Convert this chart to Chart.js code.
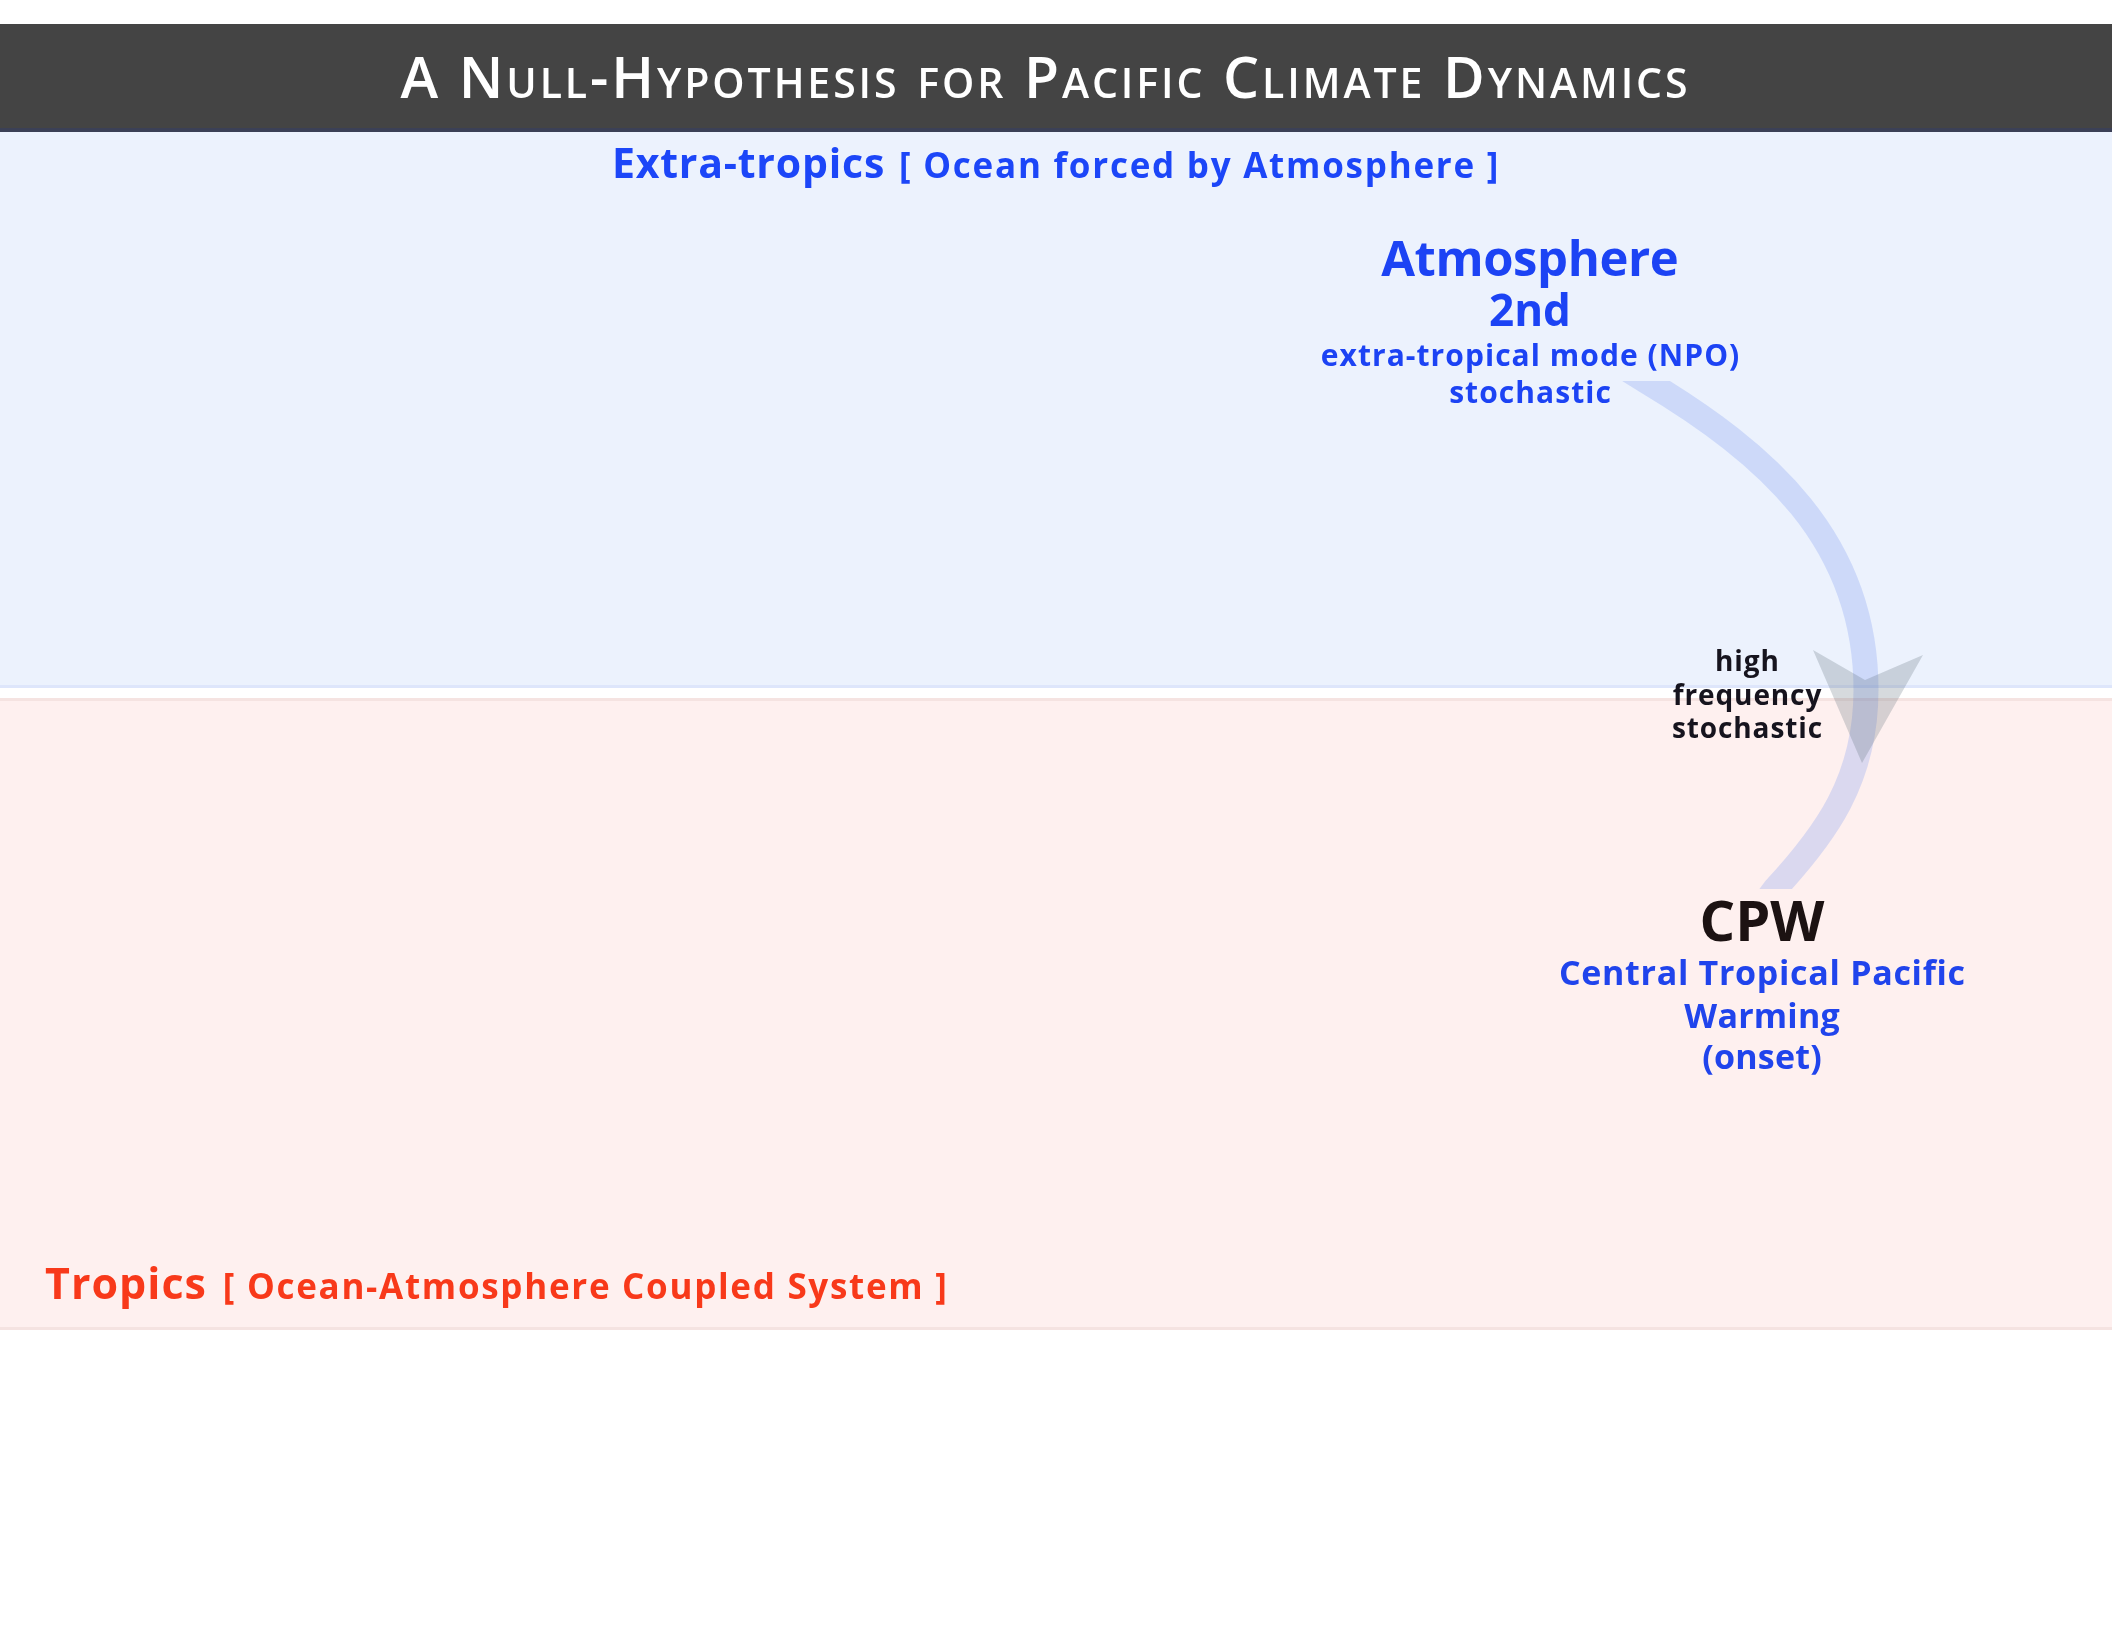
<!DOCTYPE html>
<html>
<head>
<meta charset="utf-8">
<script src="https://cdn.jsdelivr.net/npm/chart.js@4.4.1/dist/chart.umd.min.js"></script>
<style>
  html, body { margin: 0; padding: 0; background: #ffffff; }
  canvas { display: block; }
</style>
</head>
<body>
<canvas id="c" width="2112" height="1632"></canvas>
<script>
// ---------------- DATA (text content of the diagram) ----------------
const titleText = "A Null-Hypothesis for Pacific Climate Dynamics";
const regionNames = ["Extra-tropics", "Tropics"];
const regionNotes = ["[ Ocean forced by Atmosphere ]", "[ Ocean-Atmosphere Coupled System ]"];
const nodeNames = ["Atmosphere", "CPW"];
const nodeDetails = [
  ["2nd", "extra-tropical mode (NPO)", "stochastic"],
  ["Central Tropical Pacific", "Warming", "(onset)"]
];
const linkFrom = ["Atmosphere"];
const linkTo = ["CPW"];
const linkLabels = [["high", "frequency", "stochastic"]];

// ---------------- LAYOUT / STYLE (in scale units) ----------------
const FONT = "'Open Sans', 'DejaVu Sans', sans-serif";
const layout = {
  titleBar: { y0: 24, y1: 128, strip: 132, color: "#444444", stripColor: "#3b4056" },
  title: { cx: 1044, base: 98, size: 57, ratio: 0.72, weight: 600, ls: 2.9, color: "#ffffff" },
  bands: [
    { y0: 132, y1: 688, fill: "#ecf2fd", border: "#dee6fb", borderSide: "bottom", bw: 3 },
    { y0: 698, y1: 1330, fill: "#fef0ef", border: "#f5e3e1", borderSide: "both", bw: 3 }
  ],
  regionLabels: [
    { align: "center", x: 1056, base: 178, nameSize: 41, nameLs: 0.8, noteSize: 35, noteLs: 1.75, gap: 14, color: "#1c46f8" },
    { align: "left", x: 45, base: 1299, nameSize: 43, nameLs: 1.0, noteSize: 35, noteLs: 1.7, gap: 16, color: "#f8391a" }
  ],
  nodes: [
    { cx: 1530, lines: [
        { base: 276, size: 49, ls: -0.4, color: "#1c43f4" },
        { base: 326, size: 44, ls: 0, color: "#1c43f4" },
        { base: 366, size: 30, ls: 1.05, color: "#1c43f4" },
        { base: 403, size: 30, ls: 1.05, color: "#1c43f4" } ] },
    { cx: 1762, lines: [
        { base: 941, size: 56, ls: 0, color: "#1c1212" },
        { base: 985, size: 34, ls: 0.7, color: "#2044ec" },
        { base: 1028, size: 34, ls: 0.2, color: "#2044ec" },
        { base: 1069, size: 34, ls: 0.2, color: "#2044ec" } ] }
  ],
  links: [
    { yClip0: 381, yClip1: 889, width: 25, color: "rgba(112,142,241,0.25)",
      path: [[1620, 365], [1646, 381], [1766, 453], [1866, 540], [1866, 690], [1866, 780], [1825, 835], [1775, 889], [1760, 909]],
      head: [[1813, 650], [1865, 680], [1923, 655], [1862, 763]], headColor: "rgba(92,106,120,0.25)",
      label: { cx: 1747, bases: [671, 705, 738], size: 28, ls: 0.9, color: "#16141e" } }
  ]
};

function drawText(ctx, s, x, y, ls, align) {
  ctx.letterSpacing = ls + "px";
  const w = ctx.measureText(s).width;
  let x0 = x;
  if (align === "center") x0 = x - (w - ls) / 2;
  ctx.textAlign = "left";
  ctx.fillText(s, x0, y);
  ctx.letterSpacing = "0px";
  return w;
}

// ---------------- PLUGIN that draws through the chart scales ----------------
const diagramPlugin = {
  id: "diagram",
  beforeDatasetsDraw(chart) {
    const ctx = chart.ctx;
    const xs = chart.scales.x, ys = chart.scales.y;
    const X = v => xs.getPixelForValue(v);
    const Y = v => ys.getPixelForValue(v);
    const W = chart.width;
    ctx.save();
    ctx.textBaseline = "alphabetic";

    // title bar
    const tb = layout.titleBar;
    ctx.fillStyle = tb.color;
    ctx.fillRect(X(0), Y(tb.y0), W, Y(tb.y1) - Y(tb.y0));
    ctx.fillStyle = tb.stripColor;
    ctx.fillRect(X(0), Y(tb.y1), W, Y(tb.strip) - Y(tb.y1));

    // bands
    layout.bands.forEach(b => {
      ctx.fillStyle = b.fill;
      ctx.fillRect(X(0), Y(b.y0), W, Y(b.y1) - Y(b.y0));
      ctx.fillStyle = b.border;
      if (b.borderSide === "bottom" || b.borderSide === "both")
        ctx.fillRect(X(0), Y(b.y1) - b.bw, W, b.bw);
      if (b.borderSide === "top" || b.borderSide === "both")
        ctx.fillRect(X(0), Y(b.y0), W, b.bw);
    });

    // title in small caps
    const t = layout.title;
    const runs = [];
    for (const ch of titleText) {
      const lower = /[a-z]/.test(ch);
      runs.push({ ch: ch.toUpperCase(), size: lower ? t.size * t.ratio : t.size });
    }
    let tw = 0;
    runs.forEach(r => { ctx.font = `${t.weight} ${r.size}px ${FONT}`; r.w = ctx.measureText(r.ch).width + t.ls; tw += r.w; });
    tw -= t.ls;
    let tx = X(t.cx) - tw / 2;
    ctx.fillStyle = t.color;
    ctx.textAlign = "left";
    runs.forEach(r => { ctx.font = `${t.weight} ${r.size}px ${FONT}`; ctx.fillText(r.ch, tx, Y(t.base)); tx += r.w; });

    // region labels
    layout.regionLabels.forEach((L, i) => {
      ctx.fillStyle = L.color;
      ctx.font = `700 ${L.nameSize}px ${FONT}`;
      ctx.letterSpacing = L.nameLs + "px";
      const w1 = ctx.measureText(regionNames[i]).width;
      ctx.font = `700 ${L.noteSize}px ${FONT}`;
      ctx.letterSpacing = L.noteLs + "px";
      const w2 = ctx.measureText(regionNotes[i]).width;
      ctx.letterSpacing = "0px";
      let x0 = L.align === "center" ? X(L.x) - (w1 + L.gap + w2) / 2 : X(L.x);
      ctx.font = `700 ${L.nameSize}px ${FONT}`;
      drawText(ctx, regionNames[i], x0, Y(L.base), L.nameLs, "left");
      ctx.font = `700 ${L.noteSize}px ${FONT}`;
      drawText(ctx, regionNotes[i], x0 + w1 + L.gap, Y(L.base), L.noteLs, "left");
    });

    // links (curved arrow)
    layout.links.forEach((lk, i) => {
      ctx.save();
      ctx.beginPath();
      ctx.rect(X(0), Y(lk.yClip0), W, Y(lk.yClip1) - Y(lk.yClip0));
      ctx.clip();
      const p = lk.path;
      ctx.beginPath();
      ctx.moveTo(X(p[0][0]), Y(p[0][1]));
      ctx.lineTo(X(p[1][0]), Y(p[1][1]));
      ctx.bezierCurveTo(X(p[2][0]), Y(p[2][1]), X(p[3][0]), Y(p[3][1]), X(p[4][0]), Y(p[4][1]));
      ctx.bezierCurveTo(X(p[5][0]), Y(p[5][1]), X(p[6][0]), Y(p[6][1]), X(p[7][0]), Y(p[7][1]));
      ctx.lineTo(X(p[8][0]), Y(p[8][1]));
      ctx.strokeStyle = lk.color;
      ctx.lineWidth = lk.width;
      ctx.lineCap = "butt";
      ctx.lineJoin = "round";
      ctx.stroke();
      ctx.restore();
      // arrow head
      ctx.beginPath();
      lk.head.forEach((q, j) => j ? ctx.lineTo(X(q[0]), Y(q[1])) : ctx.moveTo(X(q[0]), Y(q[1])));
      ctx.closePath();
      ctx.fillStyle = lk.headColor;
      ctx.fill();
      // label
      ctx.fillStyle = lk.label.color;
      ctx.font = `700 ${lk.label.size}px ${FONT}`;
      linkLabels[i].forEach((s, j) => drawText(ctx, s, X(lk.label.cx), Y(lk.label.bases[j]), lk.label.ls, "center"));
    });

    // nodes
    layout.nodes.forEach((n, i) => {
      const lines = [nodeNames[i]].concat(nodeDetails[i]);
      lines.forEach((s, j) => {
        const st = n.lines[j];
        ctx.font = `700 ${st.size}px ${FONT}`;
        ctx.fillStyle = st.color;
        drawText(ctx, s, X(n.cx), Y(st.base), st.ls, "center");
      });
    });

    ctx.restore();
  }
};

new Chart(document.getElementById("c"), {
  type: "scatter",
  data: { datasets: [{ data: [], pointRadius: 0 }] },
  options: {
    responsive: false,
    animation: false,
    devicePixelRatio: 1,
    events: [],
    layout: { padding: 0 },
    plugins: { legend: { display: false }, tooltip: { enabled: false }, title: { display: false } },
    scales: {
      x: { type: "linear", min: 0, max: 2112, display: false },
      y: { type: "linear", min: 0, max: 1632, reverse: true, display: false }
    }
  },
  plugins: [diagramPlugin]
});
</script>
</body>
</html>
